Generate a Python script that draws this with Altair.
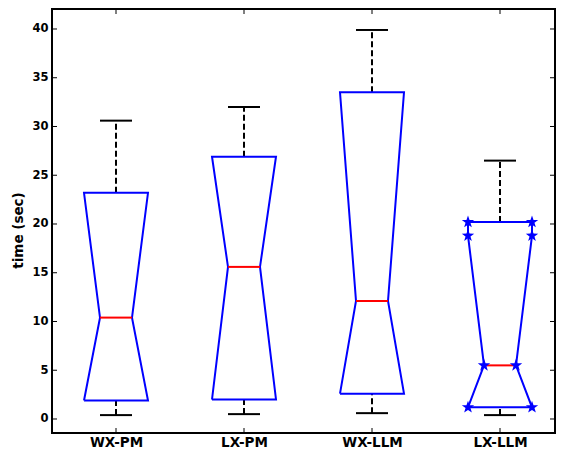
import altair as alt
import pandas as pd

names = ["WX-PM", "LX-PM", "WX-LLM", "LX-LLM"]
lower_whisker = [0.4, 0.5, 0.6, 0.4]
q1 = [1.9, 2.0, 2.6, 1.2]
median = [10.4, 15.6, 12.1, 5.5]
q3 = [23.2, 26.9, 33.5, 20.2]
upper_whisker = [30.6, 32.0, 39.9, 26.5]
notch_lo = [1.9, 2.0, 2.6, 1.2]
notch_hi = [23.2, 26.9, 33.5, 18.8]
marked = [False, False, False, True]
y_ticks = [0, 5, 10, 15, 20, 25, 30, 35, 40]

W, H = 503, 424
HALF, NOTCH, CAP = 0.25, 0.125, 0.125
FONT = "DejaVu Sans"

positions = list(range(1, len(names) + 1))

# outline polygon of each notched box
rows = []
for i, p in enumerate(positions):
    pts = [
        (p - HALF, q1[i]), (p - HALF, notch_lo[i]), (p - NOTCH, median[i]),
        (p - HALF, notch_hi[i]), (p - HALF, q3[i]), (p + HALF, q3[i]),
        (p + HALF, notch_hi[i]), (p + NOTCH, median[i]), (p + HALF, notch_lo[i]),
        (p + HALF, q1[i]), (p - HALF, q1[i]),
    ]
    for k, (x, y) in enumerate(pts):
        rows.append({"box": names[i], "ord": k, "x": x, "y": y})
outline = pd.DataFrame(rows)

stat = pd.DataFrame({
    "box": names, "pos": positions, "lo": lower_whisker, "q1": q1,
    "med": median, "q3": q3, "hi": upper_whisker,
})
stat["capl"] = stat["pos"] - CAP
stat["capr"] = stat["pos"] + CAP
stat["ml"] = stat["pos"] - NOTCH
stat["mr"] = stat["pos"] + NOTCH

star_rows = []
for i, p in enumerate(positions):
    if marked[i]:
        for x, y in [(p - HALF, q3[i]), (p + HALF, q3[i]), (p - HALF, notch_hi[i]),
                     (p + HALF, notch_hi[i]), (p - NOTCH, median[i]), (p + NOTCH, median[i]),
                     (p - HALF, q1[i]), (p + HALF, q1[i])]:
            star_rows.append({"x": x, "y": y})
stars = pd.DataFrame(star_rows)

yt = pd.DataFrame({"v": y_ticks})
xt = pd.DataFrame({"p": positions})

xs = alt.Scale(domain=[0.5, 0.5 + W / 128], nice=False, zero=False)
ys = alt.Scale(domain=[-1.436, 42.051], nice=False, zero=False)

label_expr = " : ".join(
    [f"datum.value == {p} ? '{n}'" for p, n in zip(positions, names)]
) + " : ''"

xaxis = alt.Axis(values=positions, labelExpr=label_expr, ticks=False, domain=False,
                 grid=False, labelFont=FONT, labelFontWeight="bold", labelFontSize=13.5,
                 labelPadding=2, labelColor="black", title=None)
yaxis = alt.Axis(values=y_ticks, ticks=False, domain=False, grid=False,
                 labelFont=FONT, labelFontWeight="bold", labelFontSize=11.5,
                 labelPadding=4, labelColor="black", title="time (sec)",
                 titleFont=FONT, titleFontWeight="bold", titleFontSize=13.5,
                 titleColor="black", titleX=-34, titleY=221,
                 titleBaseline="middle")


def X(f):
    return alt.X(f, type="quantitative", scale=xs, axis=xaxis)


def Y(f):
    return alt.Y(f, type="quantitative", scale=ys, axis=yaxis)


blue = "#0000ff"

box = alt.Chart(outline).mark_line(color=blue, strokeWidth=2).encode(
    x=X("x"), y=Y("y"), detail="box:N", order="ord:Q")

base = alt.Chart(stat)
whisk_hi = base.mark_rule(color="black", strokeWidth=2, strokeDash=[6, 3]).encode(
    x=X("pos"), y=Y("q3"), y2="hi")
whisk_lo = base.mark_rule(color="black", strokeWidth=2, strokeDash=[6, 3]).encode(
    x=X("pos"), y=Y("lo"), y2="q1")
cap_hi = base.mark_rule(color="black", strokeWidth=2).encode(
    x=X("capl"), x2="capr", y=Y("hi"))
cap_lo = base.mark_rule(color="black", strokeWidth=2).encode(
    x=X("capl"), x2="capr", y=Y("lo"))
med = base.mark_rule(color="red", strokeWidth=2).encode(
    x=X("ml"), x2="mr", y=Y("med"))

star_path = ("M0,-1L0.235,-0.324L0.951,-0.309L0.38,0.124L0.588,0.809L0,0.4"
             "L-0.588,0.809L-0.38,0.124L-0.951,-0.309L-0.235,-0.324Z")
star = alt.Chart(stars).mark_point(shape=star_path, filled=True, color=blue,
                                   size=170, opacity=1).encode(x=X("x"), y=Y("y"))

ytl = alt.Chart(yt).mark_rule(color="black", strokeWidth=1).encode(
    y=Y("v"), x=alt.value(0), x2=alt.value(5))
ytr = alt.Chart(yt).mark_rule(color="black", strokeWidth=1).encode(
    y=Y("v"), x=alt.value(W - 5), x2=alt.value(W))
xtb = alt.Chart(xt).mark_rule(color="black", strokeWidth=1).encode(
    x=X("p"), y=alt.value(H - 5), y2=alt.value(H))
xtt = alt.Chart(xt).mark_rule(color="black", strokeWidth=1).encode(
    x=X("p"), y=alt.value(0), y2=alt.value(5))

chart = alt.layer(
    ytl, ytr, xtb, xtt, whisk_hi, whisk_lo, cap_hi, cap_lo, box, med, star
).properties(
    width=W, height=H,
    autosize=alt.AutoSizeParams(type="none"),
    padding={"left": 44, "top": 1, "right": 1, "bottom": 16},
    background="white",
).configure_view(stroke="black", strokeWidth=2)

chart.save("out.html", embed_options={"renderer": "svg", "actions": False})
